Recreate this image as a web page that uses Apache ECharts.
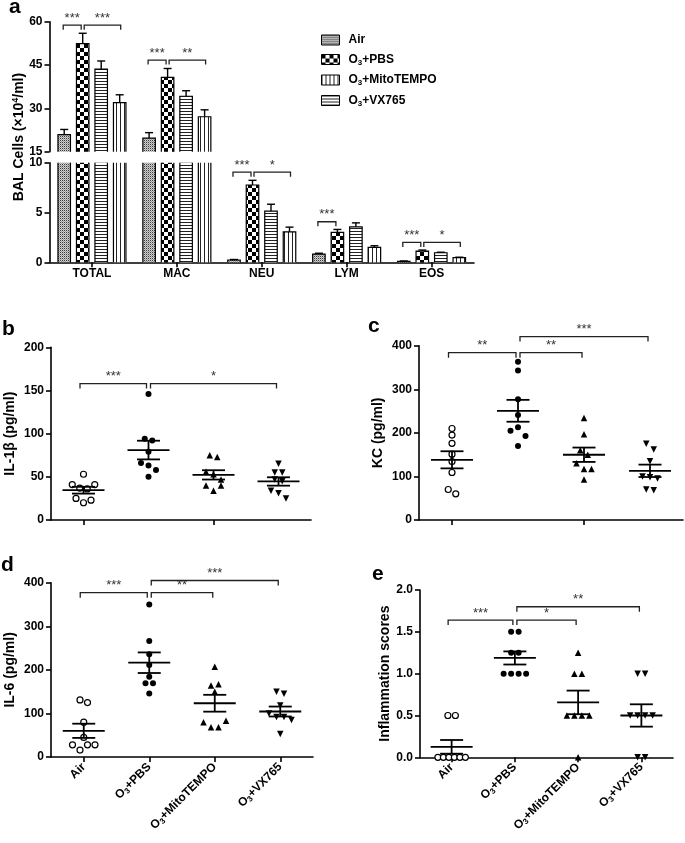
<!DOCTYPE html>
<html><head><meta charset="utf-8">
<script src="https://cdn.jsdelivr.net/npm/echarts@6/dist/echarts.min.js"></script>
<style>html,body{margin:0;padding:0;background:#fff}#c{width:685px;height:843px}</style>
</head><body><div id="c"></div>
<script>
// ================= DATA =================
const cellCategories = ['TOTAL', 'MAC', 'NEU', 'LYM', 'EOS'];
const groupNames = ['Air', 'O3+PBS', 'O3+MitoTEMPO', 'O3+VX765'];

// panel a: BAL cells (x10^4/ml), mean and SEM
const cellAir     = [20.9, 19.7, 0.23, 0.83, 0.10];
const cellAirSem  = [1.8, 1.9, 0.05, 0.08, 0.03];
const cellPBS     = [52.4, 40.7, 7.76, 3.00, 1.13];
const cellPBSSem  = [3.6, 3.1, 0.47, 0.30, 0.10];
const cellMito    = [43.6, 34.2, 5.13, 3.56, 0.96];
const cellMitoSem = [2.8, 1.9, 0.70, 0.40, 0.05];
const cellVX      = [32.0, 27.1, 3.06, 1.50, 0.46];
const cellVXSem   = [2.7, 2.4, 0.47, 0.16, 0.05];
const cellUpperTicks = [15, 30, 45, 60];
const cellLowerTicks = [0, 5, 10];
// [category, fromGroup, toGroup, level, label]
const cellBracketsUpper = [[0, 0, 1, 58.8, '***'], [0, 1, 3, 58.8, '***'], [1, 0, 1, 46.7, '***'], [1, 1, 3, 46.7, '**']];
const cellBracketsLower = [[2, 0, 1, 9.05, '***'], [2, 1, 3, 9.05, '*'], [3, 0, 1, 4.07, '***'], [4, 0, 1, 2.0, '***'], [4, 1, 3, 2.0, '*']];

// panel b: IL-1beta (pg/ml)
const il1bAir  = [53, 41, 37, 36, 41, 25, 20, 23];
const il1bPBS  = [146, 94, 92, 79, 66, 63, 58, 50];
const il1bMito = [75, 73, 56, 53, 47, 40, 34, 40];
const il1bVX   = [65, 55, 55, 47, 45, 34, 31, 25];
const il1bTicks = [0, 50, 100, 150, 200];
const il1bBrackets = [[0, 1, 158, '***'], [1, 3, 158, '*']];

// panel c: KC (pg/ml)
const kcAir  = [210, 195, 176, 151, 134, 109, 70, 60];
const kcPBS  = [363, 343, 277, 241, 205, 213, 193, 170];
const kcMito = [234, 197, 160, 150, 130, 117, 117, 93];
const kcVX   = [175, 162, 135, 100, 98, 95, 70, 68];
const kcTicks = [0, 100, 200, 300, 400];
const kcBrackets = [[0, 1, 384, '**'], [1, 2, 384, '**'], [1, 3, 421, '***']];

// panel d: IL-6 (pg/ml)
const il6Air  = [131, 125, 80, 45, 28, 16, 28, 28];
const il6PBS  = [350, 266, 236, 211, 184, 169, 169, 146];
const il6Mito = [207, 164, 167, 150, 80, 68, 68, 83];
const il6VX   = [150, 145, 118, 100, 92, 92, 85, 53];
const il6Ticks = [0, 100, 200, 300, 400];
const il6Brackets = [[0, 1, 377, '***'], [1, 2, 377, '**'], [1, 3, 405, '***']];

// panel e: inflammation scores
const scoreAir  = [0.5, 0.5, 0, 0, 0, 0, 0, 0];
const scorePBS  = [1.5, 1.5, 1.25, 1.25, 1, 1, 1, 1];
const scoreMito = [1.25, 1, 1, 0.5, 0.5, 0.5, 0.5, 0];
const scoreVX   = [1, 1, 0.5, 0.5, 0.5, 0.5, 0, 0];
const scoreTicks = [0, 0.5, 1.0, 1.5, 2.0];
const scoreBrackets = [[0, 1, 1.64, '***'], [1, 2, 1.64, '*'], [1, 3, 1.80, '**']];

// ================= STYLE / LAYOUT =================
const FONT = '"Liberation Sans", Arial, Helvetica, sans-serif';
function pattern(w, h, draw) {
  const c = document.createElement('canvas'); c.width = w; c.height = h;
  const g = c.getContext('2d'); g.fillStyle = '#fff'; g.fillRect(0, 0, w, h); draw(g);
  return { image: c, repeat: 'repeat' };
}
const patAir = pattern(2, 2, g => { g.fillStyle = '#cfcfcf'; g.fillRect(0, 0, 2, 2); g.fillStyle = '#3c3c3c'; g.fillRect(0, 0, 1, 1); g.fillStyle = '#9a9a9a'; g.fillRect(1, 1, 1, 1); });
const patPBS = pattern(8, 8, g => { g.fillStyle = '#000'; g.fillRect(0, 0, 4, 4); g.fillRect(4, 4, 4, 4); });
const patHoriz = pattern(1, 3, g => { g.fillStyle = '#222'; g.fillRect(0, 0, 1, 1); });
const patVert = pattern(4, 1, g => { g.fillStyle = '#222'; g.fillRect(0, 0, 1, 1); });
const barFills = [patAir, patPBS, patHoriz, patVert];
const legendFills = [patAir, patPBS, patVert, patHoriz];

const BAR_W = 12.5, BAR_GAP = 6;
const grids = [
  { left: 49.5, top: 21.7, width: 424.5, height: 130 },
  { left: 49.5, top: 162.7, width: 424.5, height: 99.6 },
  { left: 51, top: 347.3, width: 260, height: 172.7 },
  { left: 419, top: 345.7, width: 264, height: 174.3 },
  { left: 51, top: 582.7, width: 262, height: 174.3 },
  { left: 420, top: 590, width: 253, height: 167.3 }
];

function richName(name) {
  if (name.indexOf('O3') === 0) return '{b|O}{s|3}{b|' + name.slice(2) + '}';
  return '{b|' + name + '}';
}
const axLine = { show: true, lineStyle: { color: '#000', width: 1.6 } };
const axTick = { show: true, length: 5, lineStyle: { color: '#000', width: 1.6 } };
const tickLabel = { color: '#000', fontWeight: 'bold', fontSize: 12, fontFamily: FONT, margin: 7 };

function valueAxis(gi, ticks, name, gap, fmt) {
  return {
    type: 'value', gridIndex: gi, min: ticks[0], max: ticks[ticks.length - 1], interval: ticks[1] - ticks[0],
    axisLine: axLine, axisTick: axTick, splitLine: { show: false },
    axisLabel: Object.assign({}, tickLabel, fmt ? { formatter: fmt } : {}),
    name: name || '', nameLocation: 'middle', nameGap: gap || 30,
    nameTextStyle: { fontSize: 14, fontWeight: 'bold', fontFamily: FONT, color: '#000' }
  };
}
function catAxis(gi, showLabels) {
  return {
    type: 'category', gridIndex: gi, data: groupNames,
    axisLine: axLine, axisTick: Object.assign({ alignWithLabel: true }, axTick),
    axisLabel: showLabels ? {
      rotate: 45, margin: 8, formatter: v => richName(v),
      rich: {
        b: { fontSize: 12, fontWeight: 'bold', fontFamily: FONT, color: '#000', lineHeight: 14 },
        s: { fontSize: 8, fontWeight: 'bold', fontFamily: FONT, color: '#000', lineHeight: 5, verticalAlign: 'bottom' }
      }
    } : { show: false }
  };
}

// beeswarm offsets (pixels) for points that would overlap
function swarm(vals, pxPerUnit) {
  const order = vals.map((v, i) => i).sort((a, b) => vals[b] - vals[a] || a - b);
  const off = new Array(vals.length).fill(0);
  let grp = [order[0]];
  const flush = () => {
    const n = grp.length, step = n > 4 ? 5.5 : 7.5;
    grp.slice().sort((a, b) => a - b).forEach((g, k) => { off[g] = (k - (n - 1) / 2) * step; });
  };
  for (let k = 1; k < order.length; k++) {
    const prev = grp[grp.length - 1];
    if ((vals[prev] - vals[order[k]]) * pxPerUnit < 6) grp.push(order[k]);
    else { flush(); grp = [order[k]]; }
  }
  flush();
  return off;
}
function mean(a) { return a.reduce((s, v) => s + v, 0) / a.length; }
function sem(a) { const m = mean(a); return Math.sqrt(a.reduce((s, v) => s + (v - m) * (v - m), 0) / (a.length - 1)) / Math.sqrt(a.length); }

const markerDefs = [
  { symbol: 'circle', size: 6, color: '#fff', border: 1.2, rotate: 0 },
  { symbol: 'circle', size: 6, color: '#000', border: 0, rotate: 0 },
  { symbol: 'triangle', size: 6.5, color: '#000', border: 0, rotate: 0 },
  { symbol: 'triangle', size: 6.5, color: '#000', border: 0, rotate: 180 }
];

function meanRender(params, api) {
  const cat = api.value(0), m = api.value(1), s = api.value(2);
  const pm = api.coord([cat, m]), pt = api.coord([cat, m + s]), pb = api.coord([cat, m - s]);
  const x = pm[0], st = { stroke: '#000', lineWidth: 1.8 };
  return { type: 'group', children: [
    { type: 'line', shape: { x1: x - 21, y1: pm[1], x2: x + 21, y2: pm[1] }, style: st },
    { type: 'line', shape: { x1: x, y1: pt[1], x2: x, y2: pb[1] }, style: st },
    { type: 'line', shape: { x1: x - 11.5, y1: pt[1], x2: x + 11.5, y2: pt[1] }, style: st },
    { type: 'line', shape: { x1: x - 11.5, y1: pb[1], x2: x + 11.5, y2: pb[1] }, style: st }
  ] };
}
function bracketEl(x1, x2, y, leg, label) {
  return { type: 'group', children: [
    { type: 'polyline', shape: { points: [[x1, y + leg], [x1, y], [x2, y], [x2, y + leg]] }, style: { stroke: '#222', lineWidth: 1.3, fill: null } },
    { type: 'text', x: (x1 + x2) / 2, y: y - 7, style: { text: label, fontSize: 13, fontFamily: FONT, fill: '#333', align: 'center', verticalAlign: 'middle' } }
  ] };
}
function dotBracketRender(list) {
  return function (params, api) {
    const b = list[params.dataIndex];
    const p1 = api.coord([b[0], b[2]]), p2 = api.coord([b[1], b[2]]);
    const x1 = p1[0] + (b[0] === 1 ? 2 : -3.5), x2 = p2[0] + (b[1] === 1 ? -2 : -2);
    return bracketEl(x1, x2, p1[1], 5, b[3]);
  };
}
function barOffset(g) { return (g - 1.5) * (BAR_W + BAR_GAP); }
function cellBracketRender(list) {
  return function (params, api) {
    const b = list[params.dataIndex];
    const p = api.coord([b[0], b[3]]);
    const x1 = p[0] + barOffset(b[1]) + (b[1] === 1 ? 1.5 : -1), x2 = p[0] + barOffset(b[2]) + (b[2] === 1 ? -1.5 : 1);
    return bracketEl(x1, x2, p[1], 4.5, b[4]);
  };
}
function barRender(g, fill) {
  return function (params, api) {
    const cat = api.value(0), val = api.value(1), err = api.value(2);
    const cs = params.coordSys;
    const cx = api.coord([cat, 0])[0] + barOffset(g);
    const base = cs.y + cs.height;
    const top = api.coord([cat, val])[1];
    if (top >= base) return null;
    const visTop = Math.max(top, cs.y);
    const x0 = cx - BAR_W / 2, x1 = cx + BAR_W / 2;
    const ln = { stroke: '#000', lineWidth: 1.2 };
    const ch = [{ type: 'rect', shape: { x: x0, y: visTop, width: BAR_W, height: base - visTop }, style: { fill: fill } }];
    if (top >= cs.y) {
      const et = api.coord([cat, val + err])[1];
      ch.push({ type: 'line', shape: { x1: cx, y1: top, x2: cx, y2: et }, style: { stroke: '#000', lineWidth: 1.4 } });
      ch.push({ type: 'line', shape: { x1: cx - 4, y1: et, x2: cx + 4, y2: et }, style: { stroke: '#000', lineWidth: 1.4 } });
      ch.push({ type: 'polyline', shape: { points: [[x0, base], [x0, top], [x1, top], [x1, base]] }, style: Object.assign({ fill: null }, ln) });
    } else {
      ch.push({ type: 'line', shape: { x1: x0, y1: base, x2: x0, y2: cs.y }, style: ln });
      ch.push({ type: 'line', shape: { x1: x1, y1: base, x2: x1, y2: cs.y }, style: ln });
    }
    return { type: 'group', children: ch };
  };
}

// ================= BUILD =================
const cellMeans = [cellAir, cellPBS, cellMito, cellVX];
const cellSems = [cellAirSem, cellPBSSem, cellMitoSem, cellVXSem];
const series = [];
[0, 1].forEach(gi => {
  groupNames.forEach((name, g) => {
    series.push({
      type: 'custom', name: name, xAxisIndex: gi, yAxisIndex: gi, silent: true,
      itemStyle: { color: barFills[g] },
      renderItem: barRender(g, barFills[g]),
      encode: { x: 0, y: 1 },
      data: cellMeans[g].map((v, i) => [i, v, cellSems[g][i]])
    });
  });
});
series.push({ type: 'custom', xAxisIndex: 0, yAxisIndex: 0, silent: true, renderItem: cellBracketRender(cellBracketsUpper), encode: { x: 0, y: 1 }, data: cellBracketsUpper.map(b => [b[0], b[3]]) });
series.push({ type: 'custom', xAxisIndex: 1, yAxisIndex: 1, silent: true, renderItem: cellBracketRender(cellBracketsLower), encode: { x: 0, y: 1 }, data: cellBracketsLower.map(b => [b[0], b[3]]) });

const panels = [
  { gi: 2, sets: [il1bAir, il1bPBS, il1bMito, il1bVX], ticks: il1bTicks, br: il1bBrackets },
  { gi: 3, sets: [kcAir, kcPBS, kcMito, kcVX], ticks: kcTicks, br: kcBrackets },
  { gi: 4, sets: [il6Air, il6PBS, il6Mito, il6VX], ticks: il6Ticks, br: il6Brackets },
  { gi: 5, sets: [scoreAir, scorePBS, scoreMito, scoreVX], ticks: scoreTicks, br: scoreBrackets }
];
panels.forEach(p => {
  const ppu = grids[p.gi].height / (p.ticks[p.ticks.length - 1] - p.ticks[0]);
  p.sets.forEach((vals, g) => {
    const off = swarm(vals, ppu), md = markerDefs[g];
    series.push({
      type: 'scatter', xAxisIndex: p.gi, yAxisIndex: p.gi, silent: true, z: 2,
      symbol: md.symbol, symbolSize: md.size, symbolRotate: md.rotate,
      itemStyle: { color: md.color, borderColor: '#000', borderWidth: md.border, opacity: 1 },
      data: vals.map((v, i) => ({ value: [g, v], symbolOffset: [off[i], 0] }))
    });
  });
  series.push({
    type: 'custom', xAxisIndex: p.gi, yAxisIndex: p.gi, silent: true, z: 3,
    renderItem: meanRender, encode: { x: 0, y: 1 },
    data: p.sets.map((vals, g) => [g, mean(vals), sem(vals)])
  });
  series.push({
    type: 'custom', xAxisIndex: p.gi, yAxisIndex: p.gi, silent: true, z: 3,
    renderItem: dotBracketRender(p.br), encode: { x: 0, y: 1 },
    data: p.br.map(b => [b[0], b[2]])
  });
});

const chart = echarts.init(document.getElementById('c'), null, { renderer: 'canvas' });
chart.setOption({
  animation: false,
  backgroundColor: '#fff',
  grid: grids,
  xAxis: [
    { type: 'category', gridIndex: 0, data: cellCategories, show: false },
    { type: 'category', gridIndex: 1, data: cellCategories, axisLine: axLine,
      axisTick: Object.assign({ alignWithLabel: true }, axTick),
      axisLabel: { color: '#000', fontWeight: 'bold', fontSize: 12, fontFamily: FONT, margin: 5 } },
    catAxis(2, false), catAxis(3, false), catAxis(4, true), catAxis(5, true)
  ],
  yAxis: [
    valueAxis(0, cellUpperTicks),
    valueAxis(1, cellLowerTicks),
    valueAxis(2, il1bTicks, 'IL-1β (pg/ml)', 34),
    valueAxis(3, kcTicks, 'KC (pg/ml)', 34),
    valueAxis(4, il6Ticks, 'IL-6 (pg/ml)', 34),
    valueAxis(5, scoreTicks, 'Inflammation scores', 28, v => v.toFixed(1))
  ],
  legend: {
    orient: 'vertical', left: 321, top: 34, padding: 0, itemWidth: 18, itemHeight: 10, itemGap: 7.5,
    icon: 'rect', selectedMode: false,
    formatter: n => '{g|}' + richName(n),
    textStyle: { rich: {
      g: { width: 4 },
      b: { fontSize: 12, fontWeight: 'bold', fontFamily: FONT, color: '#000', lineHeight: 14 },
      s: { fontSize: 8, fontWeight: 'bold', fontFamily: FONT, color: '#000', lineHeight: 6, verticalAlign: 'bottom' }
    } },
    data: groupNames.map((n, g) => ({ name: n, itemStyle: { color: legendFills[g], borderColor: '#000', borderWidth: 1 } }))
  },
  graphic: [
    { type: 'text', x: 19.5, y: 137, rotation: Math.PI / 2, silent: true,
      style: { text: '{t|BAL Cells (×10}{p|4}{t|/ml)}', align: 'center', verticalAlign: 'middle',
        rich: { t: { fontSize: 14, fontWeight: 'bold', fontFamily: FONT, fill: '#000', lineHeight: 16 },
                p: { fontSize: 9, fontWeight: 'bold', fontFamily: FONT, fill: '#000', lineHeight: 6, verticalAlign: 'top' } } } },
    { type: 'text', x: 9, y: 7, style: { text: 'a', fontSize: 21, fontWeight: 'bold', fontFamily: FONT, fill: '#000', verticalAlign: 'middle' } },
    { type: 'text', x: 2, y: 329, style: { text: 'b', fontSize: 21, fontWeight: 'bold', fontFamily: FONT, fill: '#000', verticalAlign: 'middle' } },
    { type: 'text', x: 368, y: 326, style: { text: 'c', fontSize: 21, fontWeight: 'bold', fontFamily: FONT, fill: '#000', verticalAlign: 'middle' } },
    { type: 'text', x: 1, y: 565, style: { text: 'd', fontSize: 21, fontWeight: 'bold', fontFamily: FONT, fill: '#000', verticalAlign: 'middle' } },
    { type: 'text', x: 372, y: 574, style: { text: 'e', fontSize: 21, fontWeight: 'bold', fontFamily: FONT, fill: '#000', verticalAlign: 'middle' } }
  ],
  series: series
});
</script>
</body></html>
